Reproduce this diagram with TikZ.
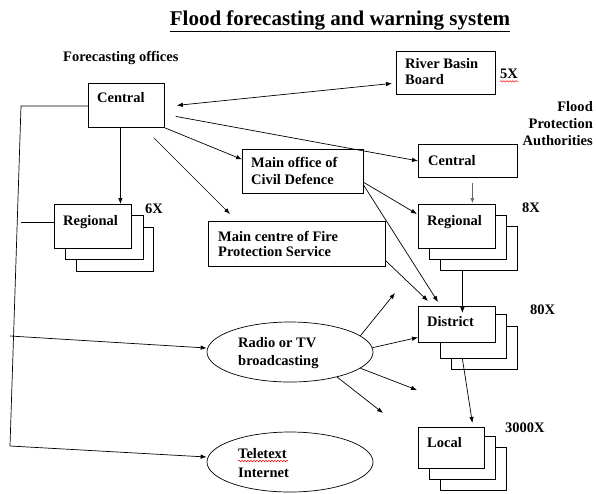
\documentclass[tikz,border=0pt]{standalone}
\usepackage{fontspec}
\setmainfont{Liberation Serif}
\usetikzlibrary{arrows.meta,decorations.pathmorphing,shapes.geometric,calc}
\begin{document}
\begin{tikzpicture}[x=1pt,y=-1pt,
 box/.style={draw,line width=0.8pt,fill=white,inner sep=0,anchor=north west},
 oval/.style={draw,ellipse,line width=0.7pt,inner sep=0,minimum width=166pt,minimum height=60pt},
 lbl/.style={inner sep=0,anchor=base west,font=\fontsize{14.5}{17}\selectfont\bfseries},
 arr/.style={line width=0.7pt,-{Latex[length=6pt,width=4.5pt]}},
 darr/.style={line width=0.7pt,{Latex[length=6pt,width=4.5pt]}-{Latex[length=6pt,width=4.5pt]}},
 garr/.style={line width=0.5pt,gray!80!black,-{Latex[length=5pt,width=4pt]}},
 ln/.style={line width=0.7pt},
 squig/.style={red,line width=0.5pt,decorate,decoration={snake,amplitude=0.7pt,segment length=3pt}}
]
\useasboundingbox (0,0) rectangle (596,493);

% title and group labels
\node[inner sep=0,anchor=base,font=\fontsize{21}{24}\selectfont\bfseries] (title) at (340,25) {\underline{Flood forecasting and warning system}};
\node[lbl] (fo) at (63,61) {Forecasting offices};
\node[lbl,anchor=base east] (fpa) at (593,111) {\begin{tabular}[t]{@{}r@{}}Flood\\Protection\\Authorities\end{tabular}};

% stacked boxes (behind)
\node[box,minimum width=77pt,minimum height=44pt] (regL3) at (76,227) {};
\node[box,minimum width=78pt,minimum height=44pt] (regL2) at (65,215) {};
\node[box,minimum width=77pt,minimum height=44pt] (regR3) at (440,226) {};
\node[box,minimum width=77pt,minimum height=44pt] (regR2) at (429,215) {};
\node[box,minimum width=66pt,minimum height=43pt] (dist3) at (451,326) {};
\node[box,minimum width=66pt,minimum height=44pt] (dist2) at (440,314) {};
\node[box,minimum width=66pt,minimum height=43pt] (loc3) at (440,447) {};
\node[box,minimum width=66pt,minimum height=43pt] (loc2) at (429,436) {};

% main boxes
\node[box,minimum width=76pt,minimum height=44pt] (cenL) at (88,83) {};
\node[box,minimum width=99pt,minimum height=43pt] (rbb) at (396,51) {};
\node[box,minimum width=99pt,minimum height=33pt] (cenR) at (418,144) {};
\node[box,minimum width=121pt,minimum height=44pt] (civ) at (242,149) {};
\node[box,minimum width=177pt,minimum height=45pt] (fire) at (208,221) {};
\node[box,minimum width=77pt,minimum height=44pt] (regL) at (54,204) {};
\node[box,minimum width=77pt,minimum height=44pt] (regR) at (418,204) {};
\node[box,minimum width=77pt,minimum height=36pt] (dist) at (418,306) {};
\node[box,minimum width=66pt,minimum height=41pt] (loc) at (418,427) {};
\node[oval] (rad) at (290,352) {};
\node[oval] (tel) at (290,462) {};

% texts
\node[lbl] (tcenL) at (97,102) {Central};
\node[lbl] (trbb) at (405,68) {\begin{tabular}[t]{@{}l@{}}River Basin\\[-1pt]Board\end{tabular}};
\node[lbl] (t5x) at (500,78) {5X};
\node[lbl] (tcenR) at (428,165) {Central};
\node[lbl] (tciv) at (251,167) {\begin{tabular}[t]{@{}l@{}}Main office of\\Civil Defence\end{tabular}};
\node[lbl] (tfire) at (218,241) {\begin{tabular}[t]{@{}l@{}}Main centre of Fire\\[-2pt]Protection Service\end{tabular}};
\node[lbl] (tregL) at (63,225) {Regional};
\node[lbl] (t6x) at (145,213) {6X};
\node[lbl] (tregR) at (427,225) {Regional};
\node[lbl] (t8x) at (522,212) {8X};
\node[lbl] (tdist) at (427,326) {District};
\node[lbl] (t80x) at (530,314) {80X};
\node[lbl] (tloc) at (427,447) {Local};
\node[lbl] (t3000x) at (505,432) {3000X};
\node[lbl] (trad) at (238,347) {\begin{tabular}[t]{@{}l@{}}Radio or TV\\[1pt]broadcasting\end{tabular}};
\node[lbl] (ttel) at (238,458) {\begin{tabular}[t]{@{}l@{}}Teletext\\[2pt]Internet\end{tabular}};

% spell-check squiggles
\draw[squig] ([yshift=-3pt]t5x.south west) -- ([yshift=-3pt]t5x.south east);
\draw[squig] (238,461) -- (288,461);

% left trunk line
\coordinate (c1) at (21,106);
\coordinate (c2) at (10,446);
\coordinate (c3) at (10,336);
\coordinate (c4) at (21,222);
\draw[ln] (cenL.west |- c1) -- (c1) -- (c2);
\draw[arr] (c2) -- ([yshift=5pt]tel.west);
\draw[arr] (c3) -- ([yshift=4pt]rad.west);
\draw[ln] (c4) -- (c4 -| regL.west);

% connectors from central forecasting office
\draw[darr] ([xshift=12pt]cenL.east) -- ([xshift=-4pt,yshift=-10.5pt]rbb.west);
\draw[arr] ([xshift=11pt,yshift=-11pt]cenL.east) -- (cenR.west);
\draw[arr] (cenL.south east) -- ([yshift=12pt]civ.west);
\draw[arr] ([xshift=-11pt,yshift=-10pt]cenL.south east) -- ([xshift=22pt,yshift=7pt]fire.north west);
\coordinate (p1) at ([xshift=-6pt]cenL.south);
\draw[arr] (p1) -- (p1 |- regL.north);

% civil defence and fire
\draw[arr] ([yshift=-11pt]civ.east) -- ([xshift=-1pt,yshift=-10pt]regR.north west);
\draw[arr] ([yshift=-14pt]civ.east) -- ([xshift=20pt,yshift=4pt]dist.north west);
\draw[arr] ([yshift=6pt]fire.south east) -- ([xshift=10pt,yshift=5pt]dist.north west);

% flood protection chain
\coordinate (p2) at ([xshift=4.5pt,yshift=-5pt]cenR.south);
\draw[garr] (p2) -- ($(p2 |- regR.north)+(0,-1)$);
\coordinate (p3) at ([xshift=-16.5pt]regR3.south);
\draw[arr] (p3) -- ($(p3 |- dist.north)+(0,7)$);
\draw[arr] ([xshift=-11pt]dist2.south) -- ([xshift=21pt,yshift=4pt]loc.north);

% radio broadcasting arrows
\coordinate (r1) at (395,293);
\coordinate (r3) at (417,390);
\coordinate (r4) at (383,413);
\draw[arr] (rad.13) -- (r1);
\draw[arr] (rad.3) -- ([yshift=-13pt]dist.west);
\draw[arr] (rad.-13) -- (r3);
\draw[arr] (rad.-28) -- (r4);
\end{tikzpicture}
\end{document}
